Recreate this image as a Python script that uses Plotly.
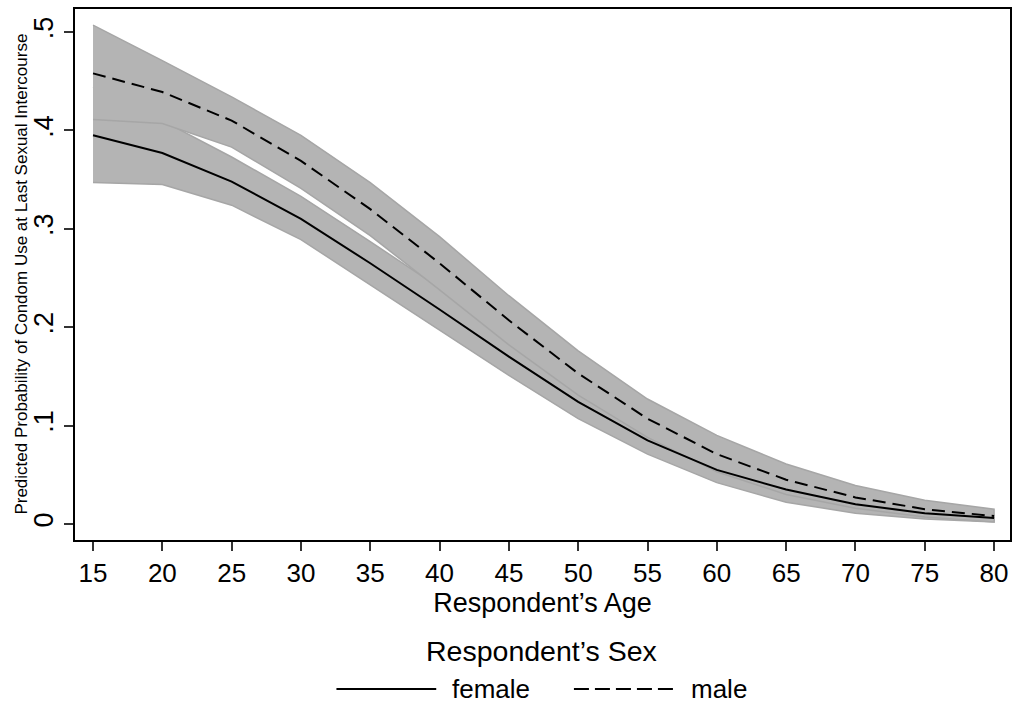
import plotly.graph_objects as go

age = [15, 20, 25, 30, 35, 40, 45, 50, 55, 60, 65, 70, 75, 80]

female = [0.395, 0.377, 0.348, 0.310, 0.265, 0.218, 0.170, 0.124, 0.085, 0.055, 0.035, 0.020, 0.011, 0.006]
female_lo = [0.347, 0.345, 0.324, 0.289, 0.243, 0.197, 0.151, 0.107, 0.071, 0.042, 0.022, 0.011, 0.005, 0.002]
female_hi = [0.444, 0.410, 0.373, 0.333, 0.287, 0.240, 0.189, 0.140, 0.098, 0.066, 0.042, 0.026, 0.015, 0.009]

male = [0.458, 0.439, 0.410, 0.369, 0.320, 0.265, 0.207, 0.153, 0.107, 0.071, 0.045, 0.027, 0.015, 0.008]
male_lo = [0.411, 0.407, 0.383, 0.341, 0.293, 0.238, 0.182, 0.131, 0.088, 0.053, 0.030, 0.016, 0.007, 0.002]
male_hi = [0.507, 0.471, 0.434, 0.395, 0.347, 0.292, 0.232, 0.176, 0.127, 0.090, 0.061, 0.039, 0.024, 0.015]

y_ticks = [0, 0.1, 0.2, 0.3, 0.4, 0.5]
y_ticktext = ["0", ".1", ".2", ".3", ".4", ".5"]
x_ticks = list(range(15, 81, 5))

FONT = "Liberation Sans, Arial, sans-serif"
FILL = "#b4b4b4"
EDGE = "#a6a6a6"
DASH = "13px,7px"

fig = go.Figure()

def band(lo, hi):
    fig.add_trace(go.Scatter(x=age + age[::-1], y=hi + lo[::-1], fill="toself",
                             fillcolor=FILL, line=dict(color=EDGE, width=1.5),
                             mode="lines", showlegend=False, hoverinfo="skip"))

band(female_lo, female_hi)
band(male_lo, male_hi)

fig.add_trace(go.Scatter(x=age, y=female, mode="lines", name="female",
                         line=dict(color="black", width=2), showlegend=False))
fig.add_trace(go.Scatter(x=age, y=male, mode="lines", name="male",
                         line=dict(color="black", width=2, dash=DASH), showlegend=False))

fig.update_layout(
    width=1016, height=704,
    margin=dict(l=75, r=4, t=9, b=164),
    plot_bgcolor="white", paper_bgcolor="white",
    font=dict(family=FONT, color="black"),
    xaxis=dict(range=[13.7, 81.15], tickvals=x_ticks, ticks="outside", ticklen=9,
               tickwidth=1.5, tickcolor="#333", showgrid=False, zeroline=False,
               showline=True, linecolor="black", linewidth=1.5, mirror=True,
               tickfont=dict(size=26),
               title=dict(text="Respondent’s Age", font=dict(size=27), standoff=0)),
    yaxis=dict(range=[-0.0163, 0.5234], tickvals=y_ticks, ticktext=y_ticktext,
               ticks="outside", ticklen=9, tickwidth=1.5, tickcolor="#333",
               showgrid=False, zeroline=False, showline=True, linecolor="black",
               linewidth=1.5, mirror=True, tickangle=-90, tickfont=dict(size=27)),
)

fig.add_annotation(text="Predicted Probability of Condom Use at Last Sexual Intercourse",
                   xref="paper", yref="paper", x=(21 - 75) / 937, y=0.5, textangle=-90,
                   showarrow=False, font=dict(size=17), xanchor="center", yanchor="middle")

# legend (drawn manually to match layout)
fig.add_annotation(text="Respondent’s Sex", xref="paper", yref="paper",
                   x=(542 - 75) / 937, y=(540 - 651) / 531, showarrow=False,
                   font=dict(size=28.5), xanchor="center", yanchor="middle")
ly = (540 - 689) / 531
fig.add_shape(type="line", xref="paper", yref="paper", x0=(337 - 75) / 937, x1=(437 - 75) / 937,
              y0=ly, y1=ly, line=dict(color="black", width=2))
fig.add_annotation(text="female", xref="paper", yref="paper", x=(451 - 75) / 937, y=ly,
                   showarrow=False, font=dict(size=26), xanchor="left", yanchor="middle")
fig.add_shape(type="line", xref="paper", yref="paper", x0=(575 - 75) / 937, x1=(675 - 75) / 937,
              y0=ly, y1=ly, line=dict(color="black", width=2, dash="15px,6px"))
fig.add_annotation(text="male", xref="paper", yref="paper", x=(690 - 75) / 937, y=ly,
                   showarrow=False, font=dict(size=26), xanchor="left", yanchor="middle")

fig.write_html("out.html")
